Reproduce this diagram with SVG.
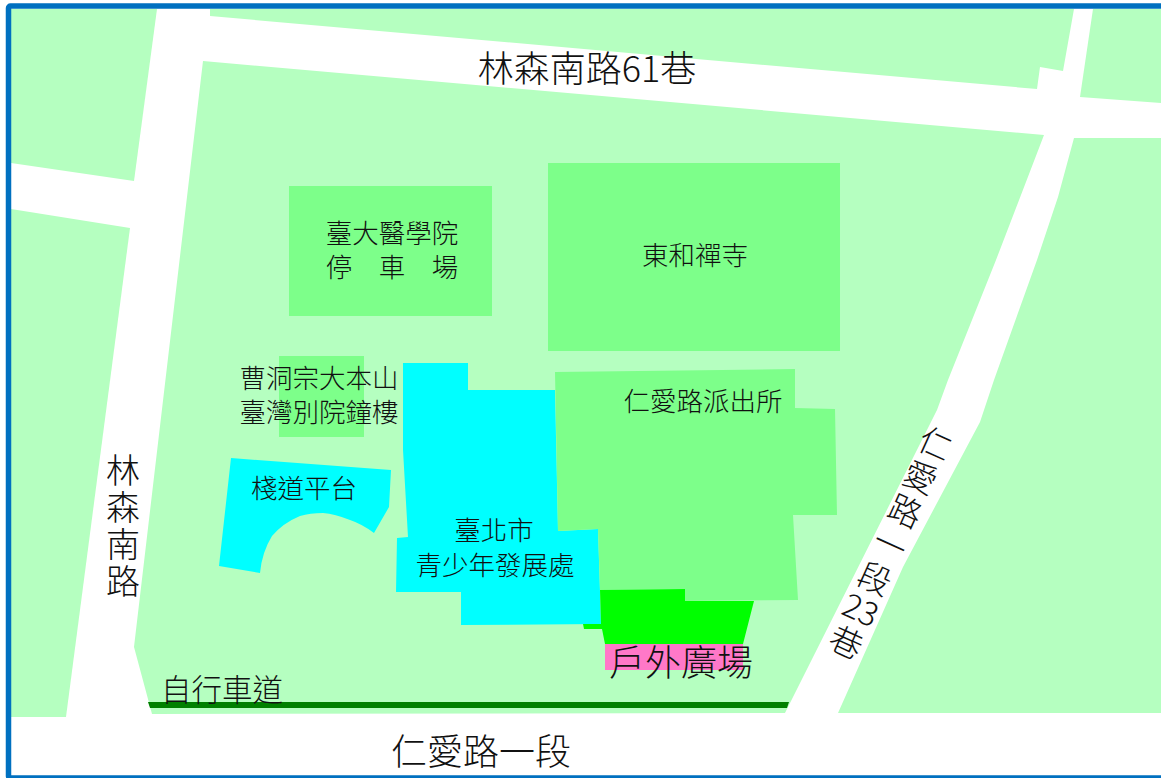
<svg xmlns="http://www.w3.org/2000/svg" width="1161" height="778" viewBox="0 0 1161 778">
<style>
.b{fill:#b5ffc0}.g{fill:#7dff8a}.c{fill:#00ffff}
text{font-family:"Noto Sans CJK TC","Noto Sans CJK SC",sans-serif;font-weight:300;fill:#111;text-anchor:middle}
.m{font-size:26.500px}.l{font-size:36px}.s{font-size:30.500px}.r{font-size:33px}.v{font-size:34px;writing-mode:vertical-rl;text-anchor:start;letter-spacing:3px}
.w{font-size:33px;writing-mode:vertical-rl;text-anchor:start;letter-spacing:4px}
</style>
<rect width="1161" height="778" fill="#fff"/>
<g id="blocks">
<polygon class="b" points="11,9 157,9 134,181 11,163"/>
<polygon class="b" points="11,209 130,228 66,717 11,717"/>
<polygon class="b" points="203,61 1044,135 996,260 948,380 937,410 785,713 152,714 134,647"/>
<polygon class="b" points="210,9 210,16 1037,89 1040,67 1063,71 1074,9"/>
<polygon class="b" points="1093,9 1080,97 1161,103 1161,9"/>
<polygon class="b" points="1074,138 1161,138 1161,713 838,713 903,567 980,422 994,380 1037,260 1058,197"/>
</g>
<g id="n-parking"><rect class="g" x="289" y="186" width="203" height="130"/><text class="m" x="392" y="243">臺大醫學院</text><text class="m" x="392" y="277">停　車　場</text></g>
<g id="n-temple"><rect class="g" x="548" y="163" width="292" height="188"/><text class="m" x="695" y="265">東和禪寺</text></g>
<g id="n-bell"><rect class="g" x="279" y="356" width="85" height="81"/><text class="m" x="319" y="388">曹洞宗大本山</text><text class="m" x="319" y="422">臺灣別院鐘樓</text></g>
<g id="n-deck"><path class="c" d="M231,458 L391,470 L389,507 L374,533 Q362,524 350,520 Q335,514 323,513 Q310,513 300,516 Q283,523 272,536 Q262,552 260,573 L219,566 Z"/><text class="m" x="304" y="498">棧道平台</text></g>
<g id="n-youth"><polygon class="c" points="403,363 468,363 468,390 555,390 558,531 598,529 601,624 461,625 461,592 396,592 397,538 408,537 403,450"/><text class="m" x="494" y="540">臺北市</text><text class="m" x="495" y="575">青少年發展處</text></g>
<g id="n-police"><polygon class="g" points="555,372 795,369 795,408 835,409 837,515 793,515 798,600 685,601 685,589 600,590 598,529 558,531"/><text class="m" x="703" y="411">仁愛路派出所</text></g>
<g id="n-plaza"><polygon fill="#00ff00" points="600,590 685,589 685,601 754,601 743,644 605,644 602,629 584,629 583,624 601,624"/><rect x="605" y="644" width="138" height="26" fill="#ff78c8"/><text class="l" x="681" y="676">戶外廣場</text></g>
<g id="n-bike"><polygon fill="#008000" points="148,702 789,702 787,708 150,708"/><text class="s" x="222" y="701">自行車道</text></g>
<g id="roads">
<text class="l" x="587" y="82">林森南路61巷</text>
<text class="l" x="481" y="765">仁愛路一段</text>
<text class="v" x="123" y="453">林森南路</text>
<g transform="translate(936,443) rotate(24.300)"><text class="w" x="0" y="-16">仁愛路一段</text><text class="r" x="0" y="195">23</text><text class="r" x="0" y="231">巷</text></g>
</g>
<rect x="8.500" y="6" width="1160" height="772" fill="none" stroke="#0070c0" stroke-width="5.500" rx="2"/>
</svg>
